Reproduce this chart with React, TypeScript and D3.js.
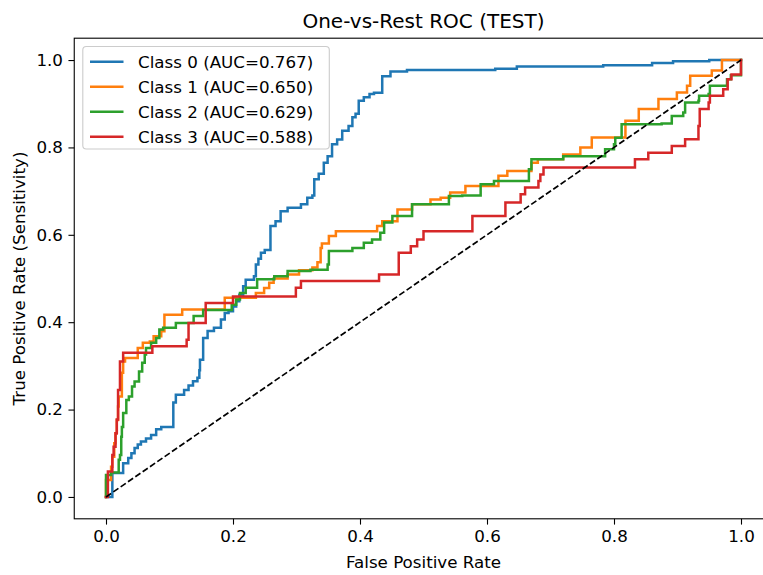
import React, { useEffect, useRef } from 'react';
import * as d3 from 'd3';

// ROC corner points (x = FPR where the step rises, y = TPR after the step)
const classNames = ['Class 0', 'Class 1', 'Class 2', 'Class 3'];
const aucValues = [0.767, 0.65, 0.629, 0.588];
const colors = ['#1f77b4', '#ff7f0e', '#2ca02c', '#d62728'];

const fpr0 = [0, 0.01, 0.027, 0.035, 0.04, 0.045, 0.05, 0.055, 0.063, 0.071, 0.079, 0.087, 0.106, 0.106, 0.11, 0.123, 0.13, 0.137, 0.144, 0.147, 0.148, 0.153, 0.16, 0.17, 0.181, 0.187, 0.193, 0.2, 0.205, 0.21, 0.216, 0.22, 0.233, 0.236, 0.24, 0.244, 0.25, 0.259, 0.267, 0.275, 0.286, 0.307, 0.317, 0.325, 0.328, 0.335, 0.343, 0.349, 0.356, 0.364, 0.372, 0.382, 0.388, 0.393, 0.398, 0.406, 0.415, 0.422, 0.435, 0.448, 0.474, 0.613, 0.647, 0.783, 0.86, 0.893, 0.95, 1.0];
const tpr0 = [0, 0.055, 0.077, 0.089, 0.1, 0.112, 0.12, 0.127, 0.134, 0.142, 0.155, 0.16, 0.167, 0.216, 0.234, 0.245, 0.255, 0.265, 0.273, 0.29, 0.314, 0.364, 0.38, 0.387, 0.406, 0.421, 0.425, 0.436, 0.448, 0.463, 0.482, 0.497, 0.505, 0.532, 0.545, 0.559, 0.565, 0.62, 0.631, 0.654, 0.662, 0.67, 0.685, 0.69, 0.727, 0.74, 0.765, 0.78, 0.807, 0.818, 0.838, 0.849, 0.869, 0.877, 0.907, 0.915, 0.922, 0.925, 0.963, 0.974, 0.977, 0.98, 0.985, 0.988, 0.993, 0.997, 1.0, 1.0];

const fpr1 = [0, 0, 0.008, 0.01, 0.013, 0.015, 0.017, 0.019, 0.02, 0.025, 0.027, 0.03, 0.05, 0.058, 0.069, 0.075, 0.087, 0.092, 0.12, 0.187, 0.236, 0.249, 0.257, 0.264, 0.286, 0.304, 0.325, 0.333, 0.338, 0.34, 0.351, 0.362, 0.427, 0.435, 0.459, 0.482, 0.511, 0.527, 0.542, 0.566, 0.618, 0.632, 0.67, 0.68, 0.72, 0.747, 0.765, 0.818, 0.839, 0.87, 0.899, 0.915, 0.92, 0.954, 0.97, 1.0];
const tpr1 = [0, 0.039, 0.069, 0.092, 0.123, 0.146, 0.176, 0.207, 0.23, 0.284, 0.31, 0.318, 0.341, 0.353, 0.356, 0.368, 0.379, 0.417, 0.429, 0.456, 0.467, 0.478, 0.49, 0.5, 0.509, 0.519, 0.525, 0.537, 0.57, 0.58, 0.597, 0.608, 0.62, 0.631, 0.658, 0.67, 0.681, 0.685, 0.697, 0.712, 0.735, 0.746, 0.765, 0.773, 0.784, 0.8, 0.823, 0.861, 0.888, 0.911, 0.926, 0.941, 0.964, 0.976, 1.0, 1.0];

const fpr2 = [0, 0, 0.008, 0.02, 0.022, 0.024, 0.025, 0.027, 0.032, 0.036, 0.041, 0.045, 0.052, 0.057, 0.061, 0.063, 0.071, 0.079, 0.084, 0.09, 0.11, 0.138, 0.153, 0.198, 0.205, 0.211, 0.22, 0.238, 0.265, 0.286, 0.322, 0.349, 0.351, 0.388, 0.406, 0.419, 0.432, 0.438, 0.451, 0.482, 0.54, 0.561, 0.59, 0.611, 0.666, 0.67, 0.72, 0.786, 0.8, 0.802, 0.812, 0.875, 0.891, 0.909, 0.912, 0.933, 0.934, 0.949, 0.951, 0.978, 0.984, 1.0, 1.0];
const tpr2 = [0, 0.05, 0.056, 0.085, 0.096, 0.138, 0.16, 0.192, 0.222, 0.23, 0.253, 0.264, 0.287, 0.307, 0.326, 0.341, 0.353, 0.364, 0.383, 0.387, 0.398, 0.414, 0.428, 0.44, 0.452, 0.467, 0.479, 0.498, 0.505, 0.517, 0.52, 0.532, 0.563, 0.57, 0.582, 0.589, 0.605, 0.628, 0.643, 0.67, 0.689, 0.69, 0.716, 0.723, 0.75, 0.773, 0.78, 0.796, 0.807, 0.822, 0.853, 0.855, 0.872, 0.88, 0.903, 0.907, 0.918, 0.922, 0.941, 0.956, 0.965, 0.97, 1.0];

const fpr3 = [0, 0.003, 0.01, 0.012, 0.015, 0.017, 0.019, 0.019, 0.022, 0.027, 0.073, 0.127, 0.13, 0.157, 0.2, 0.299, 0.307, 0.43, 0.461, 0.48, 0.49, 0.5, 0.577, 0.629, 0.653, 0.66, 0.681, 0.684, 0.689, 0.833, 0.854, 0.891, 0.912, 0.933, 0.935, 0.949, 0.951, 0.972, 0.979, 0.985, 1.0];
const tpr3 = [0, 0.058, 0.096, 0.115, 0.146, 0.177, 0.2, 0.245, 0.31, 0.33, 0.345, 0.36, 0.398, 0.444, 0.459, 0.479, 0.494, 0.509, 0.559, 0.574, 0.589, 0.608, 0.643, 0.674, 0.693, 0.708, 0.723, 0.738, 0.754, 0.773, 0.788, 0.803, 0.819, 0.849, 0.888, 0.903, 0.918, 0.933, 0.956, 0.967, 1.0];

const fprList = [fpr0, fpr1, fpr2, fpr3];
const tprList = [tpr0, tpr1, tpr2, tpr3];
const tickValues = [0, 0.2, 0.4, 0.6, 0.8, 1.0];

export default function App() {
  const chartRef = useRef(null);

  useEffect(() => {
    const width = 763;
    const height = 575;
    const left = 74.25;
    const right = 772.75; // right spine falls just outside the picture
    const top = 38.2;
    const bottom = 518.8;
    const font = 'DejaVu Sans, Verdana, sans-serif';

    const svg = d3.select(chartRef.current);
    svg.selectAll('*').remove();
    svg.attr('width', width).attr('height', height);

    svg.append('rect').attr('width', width).attr('height', height).attr('fill', 'white');

    const x = d3.scaleLinear().domain([-0.05, 1.05]).range([left, right]);
    const y = d3.scaleLinear().domain([-0.05, 1.05]).range([bottom, top]);

    // axes
    const xAxis = svg.append('g')
      .attr('transform', `translate(0, ${bottom})`)
      .call(d3.axisBottom(x).tickValues(tickValues).tickFormat(d3.format('.1f')).tickSize(5.8).tickPadding(5.5));
    const yAxis = svg.append('g')
      .attr('transform', `translate(${left}, 0)`)
      .call(d3.axisLeft(y).tickValues(tickValues).tickFormat(d3.format('.1f')).tickSize(5.8).tickPadding(5.5));

    [xAxis, yAxis].forEach((g) => {
      g.select('.domain').remove();
      g.selectAll('.tick line').attr('stroke', '#000').attr('stroke-width', 1.1);
      g.selectAll('.tick text')
        .attr('fill', '#000')
        .style('font-family', font)
        .style('font-size', '16.7px');
    });

    // curves
    const line = d3.line()
      .x(d => x(d[0]))
      .y(d => y(d[1]))
      .curve(d3.curveStepAfter);

    fprList.forEach((fpr, i) => {
      const pts = fpr.map((v, j) => [v, tprList[i][j]]);
      svg.append('path')
        .datum(pts)
        .attr('d', line)
        .attr('fill', 'none')
        .attr('stroke', colors[i])
        .attr('stroke-width', 2.5)
        .attr('stroke-linejoin', 'miter')
        .attr('stroke-linecap', 'square');
    });

    // chance line
    svg.append('line')
      .attr('x1', x(0)).attr('y1', y(0))
      .attr('x2', x(1)).attr('y2', y(1))
      .attr('stroke', '#000')
      .attr('stroke-width', 1.7)
      .attr('stroke-dasharray', '6.2,2.7');

    // spines
    svg.append('rect')
      .attr('x', left).attr('y', top)
      .attr('width', right - left).attr('height', bottom - top)
      .attr('fill', 'none')
      .attr('stroke', '#000')
      .attr('stroke-width', 1.1);

    // legend
    const legend = svg.append('g');
    legend.append('rect')
      .attr('x', 82.8).attr('y', 46.5)
      .attr('width', 246.5).attr('height', 102.5)
      .attr('rx', 3.5)
      .attr('fill', 'white')
      .attr('fill-opacity', 0.8)
      .attr('stroke', '#cccccc')
      .attr('stroke-width', 1.1);

    classNames.forEach((name, i) => {
      const ly = 61.7 + i * 25;
      legend.append('line')
        .attr('x1', 90).attr('x2', 123.5)
        .attr('y1', ly).attr('y2', ly)
        .attr('stroke', colors[i])
        .attr('stroke-width', 2.5);
      legend.append('text')
        .attr('x', 138)
        .attr('y', ly)
        .attr('dy', '0.36em')
        .style('font-family', font)
        .style('font-size', '16.7px')
        .text(`${name} (AUC=${aucValues[i].toFixed(3)})`);
    });

    // titles
    svg.append('text')
      .attr('x', (left + right) / 2)
      .attr('y', 28)
      .attr('text-anchor', 'middle')
      .style('font-family', font)
      .style('font-size', '20px')
      .text('One-vs-Rest ROC (TEST)');

    svg.append('text')
      .attr('x', (left + right) / 2)
      .attr('y', 568)
      .attr('text-anchor', 'middle')
      .style('font-family', font)
      .style('font-size', '16.7px')
      .text('False Positive Rate');

    svg.append('text')
      .attr('transform', `translate(25, ${(top + bottom) / 2}) rotate(-90)`)
      .attr('text-anchor', 'middle')
      .style('font-family', font)
      .style('font-size', '16.7px')
      .text('True Positive Rate (Sensitivity)');
  }, []);

  return <svg ref={chartRef} style={{ position: 'absolute', left: 0, top: 0 }} />;
}
